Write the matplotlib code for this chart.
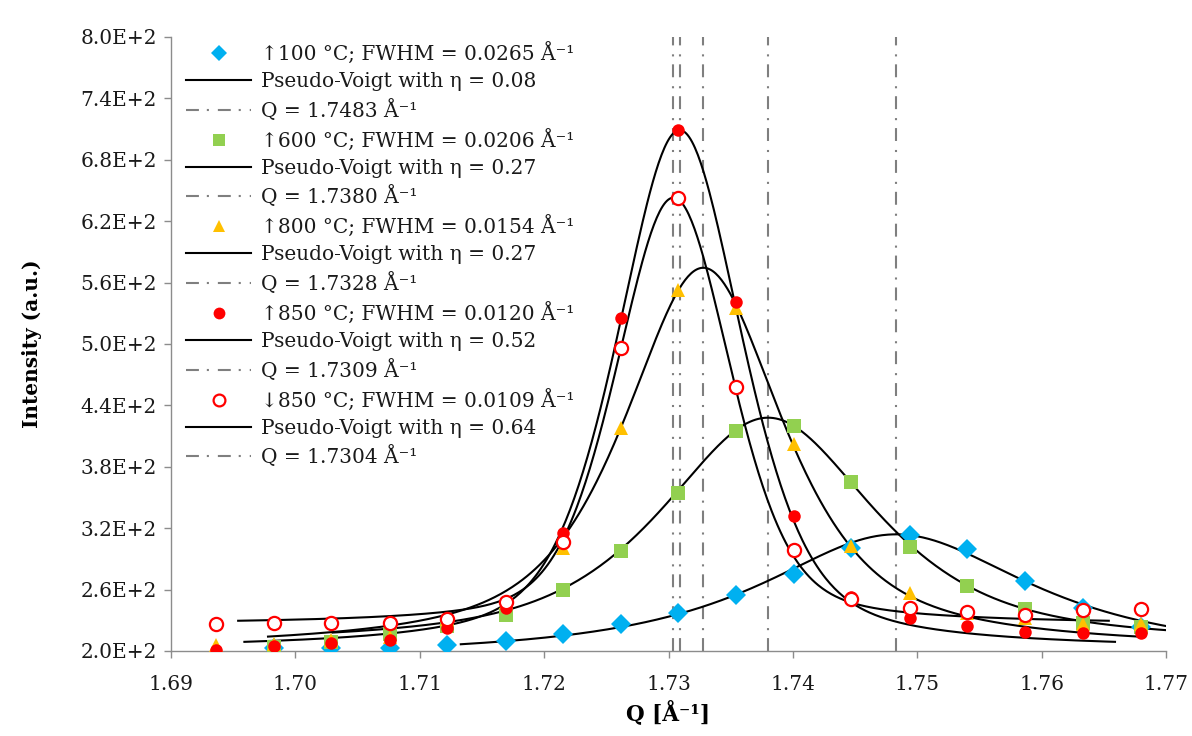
import numpy as np
import matplotlib
matplotlib.use("Agg")
import matplotlib.pyplot as plt
from matplotlib.lines import Line2D
from matplotlib.ticker import FuncFormatter

# Scattering vector positions of the measured points [1/Å]
q_points = [1.6936, 1.6983, 1.7029, 1.7076, 1.7122, 1.7169, 1.7215, 1.7262, 1.7308,
            1.7354, 1.7401, 1.7447, 1.7494, 1.7540, 1.7587, 1.7633, 1.7680]

nan = float("nan")
# Measured intensities (a.u.)
int_100_up = [nan, 202.6, 202.6, 203.0, 205.9, 209.8, 216.6, 226.4, 237.6,
              254.7, 275.2, 300.3, 313.4, 299.4, 268.7, 241.7, 223.7]
int_600_up = [nan, 204.2, 208.5, 216.6, 224.7, 235.2, 259.6, 297.7, 354.7,
              415.3, 420.2, 365.4, 301.9, 263.5, 240.7, 227.0, 223.7]
int_800_up = [206.0, 207.0, 211.0, 214.0, 231.0, 248.0, 301.0, 418.0, 553.0,
              535.0, 402.0, 303.0, 257.0, 237.0, 232.0, 226.0, 226.0]
int_850_up = [201.0, 205.2, 207.5, 210.7, 222.1, 242.2, 315.0, 525.4, 709.0,
              541.3, 332.2, 253.0, 232.5, 224.4, 218.6, 217.3, 217.3]
int_850_down = [226.4, 227.0, 227.0, 227.0, 231.3, 247.9, 306.5, 496.0, 642.6,
                458.0, 298.7, 251.0, 242.3, 237.8, 234.9, 240.0, 240.7]

# Pseudo-Voigt fit parameters per dataset
peak_q = [1.7483, 1.7380, 1.7328, 1.7309, 1.7304]
fwhm = [0.0265, 0.0206, 0.0154, 0.0120, 0.0109]
eta = [0.08, 0.27, 0.27, 0.52, 0.64]
background = [192.5, 205.0, 201.5, 202.0, 226.0]
amplitude = [121.5, 223.0, 373.0, 507.0, 417.0]
fit_halfrange = 0.035

temps = ["\u2191100 \u00b0C", "\u2191600 \u00b0C", "\u2191800 \u00b0C",
         "\u2191850 \u00b0C", "\u2193850 \u00b0C"]

y_ticks = [200, 260, 320, 380, 440, 500, 560, 620, 680, 740, 800]
x_ticks = [1.69, 1.70, 1.71, 1.72, 1.73, 1.74, 1.75, 1.76, 1.77]


def pseudo_voigt(q, q0, w, e, bg, amp):
    r2 = ((q - q0) / (w / 2.0)) ** 2
    gauss = np.exp(-np.log(2.0) * r2)
    lorentz = 1.0 / (1.0 + r2)
    return bg + amp * (e * gauss + (1.0 - e) * lorentz)


serif = ["DejaVu Serif", "DejaVu Sans"]
plt.rcParams["font.family"] = serif

fig = plt.figure(figsize=(11.92, 7.36), dpi=100)
W, H = 1192.0, 736.0
ax = fig.add_axes([171 / W, 1 - 651 / H, (1166 - 171) / W, (651 - 37) / H])

series = [int_100_up, int_600_up, int_800_up, int_850_up, int_850_down]
marker_styles = [
    dict(marker="D", ms=10.5, mfc="#00B0F0", mec="#00B0F0", mew=0),
    dict(marker="s", ms=9.5, mfc="#92D050", mec="#92D050", mew=0),
    dict(marker="^", ms=10.0, mfc="#FFC000", mec="#FFC000", mew=0),
    dict(marker="o", ms=9.0, mfc="#FF0000", mec="#FF0000", mew=0),
    dict(marker="o", ms=9.5, mfc="white", mec="#FF0000", mew=1.6),
]
legend_marker_size = [8.5, 8.5, 8.5, 8.5, 8.5]

vline_style = dict(color="#7f7f7f", lw=1.5, ls=(0, (6.2, 3.8, 1.0, 4.3)))

handles, labels = [], []
for i in range(5):
    ax.axvline(peak_q[i], zorder=1, **vline_style)
    qq = np.linspace(peak_q[i] - fit_halfrange, peak_q[i] + fit_halfrange, 600)
    ax.plot(qq, pseudo_voigt(qq, peak_q[i], fwhm[i], eta[i], background[i], amplitude[i]),
            color="black", lw=1.5, zorder=2, clip_on=True)

for i in range(5):
    ax.plot(q_points, series[i], ls="none", zorder=3 + i, clip_on=True, **marker_styles[i])

for i in range(5):
    style = dict(marker_styles[i])
    style["ms"] = legend_marker_size[i]
    handles.append(Line2D([], [], ls="none", **style))
    labels.append(f"{temps[i]}; FWHM = {fwhm[i]:.4f} \u00c5\u207b\u00b9")
    handles.append(Line2D([], [], color="black", lw=1.5))
    labels.append(f"Pseudo-Voigt with \u03b7 = {eta[i]:.2f}")
    handles.append(Line2D([], [], **vline_style))
    labels.append(f"Q = {peak_q[i]:.4f} \u00c5\u207b\u00b9")

leg = ax.legend(handles, labels, loc="upper left", bbox_to_anchor=(186 / W, 1 - 42 / H),
                bbox_transform=fig.transFigure, frameon=False, fontsize=14.5,
                handlelength=3.23, handletextpad=0.5, labelspacing=0.39,
                borderpad=0, borderaxespad=0, numpoints=1)
for t in leg.get_texts():
    t.set_color("#1a1a1a")

ax.set_xlim(1.69, 1.77)
ax.set_ylim(200, 800)
ax.set_xticks(x_ticks)
ax.set_yticks(y_ticks)
ax.xaxis.set_major_formatter(FuncFormatter(lambda v, p: f"{v:.2f}"))


def sci_label(v, p):
    exp = int(np.floor(np.log10(v)))
    return f"{v / 10 ** exp:.1f}E+{exp}"


ax.yaxis.set_major_formatter(FuncFormatter(sci_label))

for side in ("top", "right"):
    ax.spines[side].set_visible(False)
for side in ("left", "bottom"):
    ax.spines[side].set_color("#8c8c8c")
    ax.spines[side].set_linewidth(1.0)
ax.tick_params(axis="both", direction="out", length=5, width=1.0, color="#8c8c8c",
               labelsize=14.5, labelcolor="#1a1a1a")
ax.tick_params(axis="y", pad=5)
ax.tick_params(axis="x", pad=12)

ax.set_xlabel("Q [\u00c5\u207b\u00b9]", fontsize=15.5, fontweight="bold")
ax.set_ylabel("Intensity (a.u.)", fontsize=14.5, fontweight="bold")
ax.xaxis.set_label_coords(0.5, -0.08)
ax.yaxis.set_label_coords(-0.13, 0.5)

fig.savefig("out.png", dpi=100)
